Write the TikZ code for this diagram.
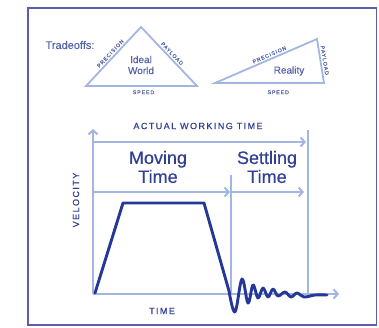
\documentclass[tikz,border=0pt]{standalone}
\usepackage{fontspec}
\setmainfont{Liberation Sans}[FakeBold=0.5]
\newfontfamily\capsfont{Liberation Sans}[LetterSpace=16, FakeBold=0.5]
\usepackage{tikz}
\usetikzlibrary{arrows.meta, positioning}
\usepackage{xcolor}
\definecolor{framecol}{RGB}{92,92,178}
\definecolor{axiscol}{RGB}{163,182,226}
\definecolor{curvecol}{RGB}{36,56,152}
\definecolor{textcol}{RGB}{48,64,148}
\definecolor{softtext}{RGB}{84,100,170}

\tikzset{
  axisline/.style={draw=axiscol, line width=2.6pt},
  tipline/.style={axisline, -{Straight Barb[length=4pt, width=9pt, line width=2pt]}},
  triline/.style={draw=axiscol, line width=1.8pt, line join=miter},
  sidelabel/.style={font=\capsfont\fontsize{5.3}{6}\selectfont, text=softtext, inner sep=1.5pt},
  axislabel/.style={font=\capsfont\fontsize{9}{10}\selectfont, text=textcol},
  bigtext/.style={font=\fontsize{18}{19}\selectfont, text=textcol, align=center},
  tritext/.style={font=\fontsize{10}{11}\selectfont, text=softtext, align=center}
}

\begin{document}
\begin{tikzpicture}[x=1pt, y=-1pt]
  \useasboundingbox (0,0) rectangle (379,327);
  \draw[framecol, line width=1.2pt] (28,8) rectangle (376.5,325);

  % Tradeoffs
  \node[font=\fontsize{11}{12}\selectfont, text=softtext, anchor=west] (tradeoffs) at (42,45) {Tradeoffs:};

  % Ideal triangle
  \coordinate (ibl) at (86,86);
  \coordinate (itop) at (141,27);
  \coordinate (ibr) at (197,86);
  \draw[triline] (ibl) -- node[sidelabel, sloped, above] (iprec) {PRECISION}
    (itop) -- node[sidelabel, sloped, above] (ipay) {PAYLOAD}
    (ibr) -- node[sidelabel, below=2pt, xshift=2pt] (ispeed) {SPEED} cycle;
  \node[tritext] (ideal) at (141,65) {Ideal\\World};

  % Reality triangle
  \coordinate (rbl) at (215,83);
  \coordinate (rtop) at (317,39);
  \coordinate (rbr) at (324,83);
  \draw[triline] (rbl) -- node[sidelabel, sloped, above, pos=0.55] (rprec) {PRECISION}
    (rtop) -- node[sidelabel, sloped, above] (rpay) {PAYLOAD}
    (rbr) -- node[sidelabel, below=5pt, pos=0.42] (rspeed) {SPEED} cycle;
  \node[tritext] (reality) at (289,71) {Reality};

  % Axes
  \coordinate (origin) at (93,294);
  \coordinate (ytop) at (93,129);
  \coordinate (xend) at (339,294);
  \draw[tipline] (origin) -- (ytop);
  \draw[tipline] (origin) -- (xend);

  % Working time
  \coordinate (wstart) at (93,142);
  \coordinate (wend) at (306,142);
  \coordinate (rtopline) at (308,130);
  \coordinate (rbotline) at (308,294);
  \draw[tipline] (wstart) -- (wend);
  \draw[axisline] (rtopline) -- (rbotline);

  % Moving / settling
  \coordinate (mstart) at (93,192);
  \coordinate (mend) at (230,192);
  \coordinate (sstart) at (231,192);
  \coordinate (send) at (304,192);
  \coordinate (midtop) at (231,175);
  \coordinate (midbot) at (231,294);
  \draw[tipline] (mstart) -- (mend);
  \draw[tipline] (sstart) -- (send);
  \draw[axisline] (midtop) -- (midbot);

  % Labels
  \node[axislabel] (working) at (198,126) {ACTUAL WORKING TIME};
  \node[bigtext] (moving) at (158,167) {Moving\\Time};
  \node[bigtext] (settling) at (267,167) {Settling\\Time};
  \node[axislabel] (time) at (162,311) {TIME};
  \node[axislabel, rotate=90] (velocity) at (76,200) {VELOCITY};

  % Velocity profile
  \coordinate (p0) at (95,293);
  \coordinate (p1) at (123,203);
  \coordinate (p2) at (204,203);
  \coordinate (p3) at (229,291);
  \draw[curvecol, line width=2.9pt, line join=round, line cap=round]
    (p0) -- (p1) -- (p2) -- (p3) -- plot[smooth, tension=0.6] coordinates {
      (229,291) (235,312) (242,279) (248,303) (253,285) (258,298) (263,288)
      (268,297) (273,289) (278,296) (285,292) (291,297) (297,293) (304,297)
      (315,295) (327,295)};
\end{tikzpicture}
\end{document}
